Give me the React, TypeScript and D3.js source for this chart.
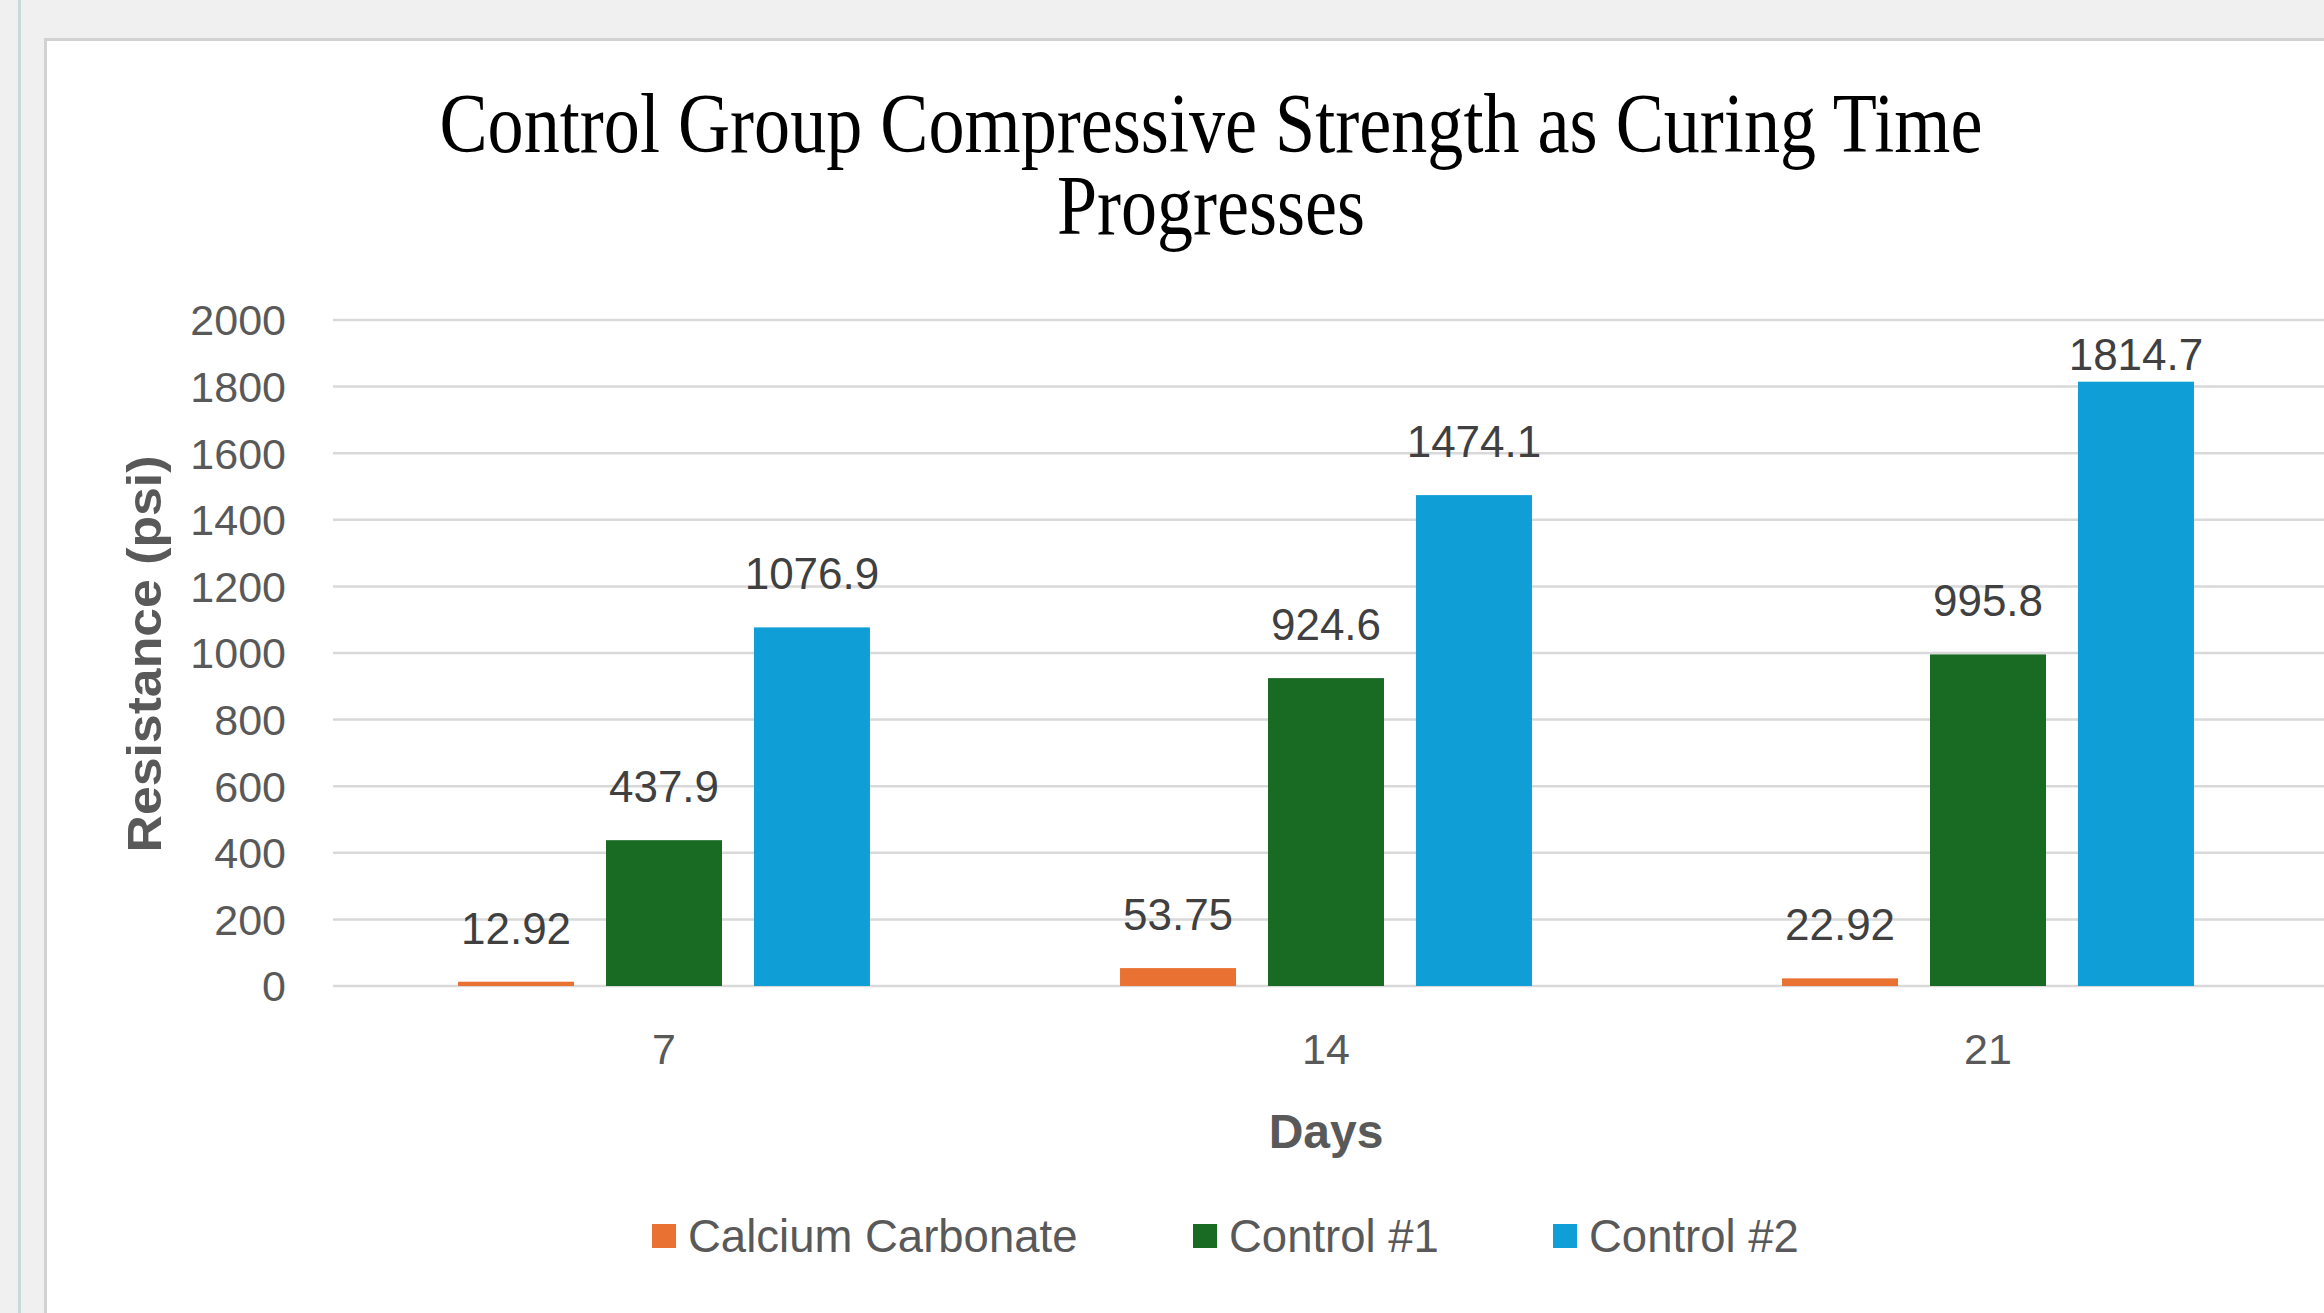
import React from 'react';
import * as d3 from 'd3';

const days = ['7', '14', '21'];
const seriesNames = ['Calcium Carbonate', 'Control #1', 'Control #2'];
const calciumCarbonate = [12.92, 53.75, 22.92];
const control1 = [437.9, 924.6, 995.8];
const control2 = [1076.9, 1474.1, 1814.7];
const seriesColors = ['#E97132', '#196B24', '#0F9ED5'];
const yTicks = [0, 200, 400, 600, 800, 1000, 1200, 1400, 1600, 1800, 2000];
const titleLines = ['Control Group Compressive Strength as Curing Time', 'Progresses'];

const W = 2324;
const H = 1313;
const sans = '"Liberation Sans", Arial, sans-serif';

export default function App() {
  const values = [calciumCarbonate, control1, control2];

  const x0 = d3.scaleBand<string>().domain(days).range([333, 2319]).padding(0);
  const x1 = d3.scaleBand<string>()
    .domain(seriesNames)
    .range([0, x0.bandwidth()])
    .paddingInner(0.216)
    .paddingOuter(0.845);
  const y = d3.scaleLinear().domain([0, 2000]).range([986, 320]);

  // legend entries, laid out left to right
  const legendX = [652, 1193, 1553];
  // title glyphs in the original are narrower than Liberation Serif
  const titleWidths = [1543, 308];

  return (
    <svg
      width={W}
      height={H}
      style={{ position: 'absolute', left: 0, top: 0, background: '#F0F0F0' }}
    >
      <rect x={0} y={0} width={W} height={H} fill="#F0F0F0" />
      <rect x={18} y={0} width={3} height={H} fill="#C8D8DB" />
      <rect x={45.5} y={39.5} width={W} height={H} fill="#FFFFFF" stroke="#D2D2D2" strokeWidth={3} />

      {/* title */}
      {titleLines.map((line, i) => (
        <text
          key={line}
          x={1211}
          y={152 + i * 82}
          textAnchor="middle"
          textLength={titleWidths[i]}
          lengthAdjust="spacingAndGlyphs"
          fontFamily='"Liberation Serif", "Times New Roman", serif'
          fontSize={84}
          fill="#000"
        >
          {line}
        </text>
      ))}

      {/* grid + y ticks */}
      {yTicks.map(t => (
        <g key={t}>
          <line x1={333} x2={W} y1={y(t)} y2={y(t)} stroke="#D9D9D9" strokeWidth={2.5} />
          <text
            x={286}
            y={y(t)}
            dy="0.36em"
            textAnchor="end"
            fontFamily={sans}
            fontSize={43}
            fill="#595959"
          >
            {t}
          </text>
        </g>
      ))}

      {/* bars */}
      {days.map((d, i) => (
        <g key={d} transform={`translate(${x0(d)},0)`}>
          {seriesNames.map((s, j) => {
            const v = values[j][i];
            const bx = x1(s) as number;
            const top = y(v);
            const labelY = Math.max(top - 38, y(2000) + 50);
            return (
              <g key={s}>
                <rect
                  x={bx}
                  y={top}
                  width={x1.bandwidth()}
                  height={y(0) - top}
                  fill={seriesColors[j]}
                />
                <text
                  x={bx + x1.bandwidth() / 2}
                  y={labelY}
                  textAnchor="middle"
                  fontFamily={sans}
                  fontSize={44}
                  fill="#404040"
                >
                  {v}
                </text>
              </g>
            );
          })}
          <text
            x={x0.bandwidth() / 2}
            y={1049}
            dy="0.36em"
            textAnchor="middle"
            fontFamily={sans}
            fontSize={43}
            fill="#595959"
          >
            {d}
          </text>
        </g>
      ))}

      {/* axis titles */}
      <text
        transform="translate(144,654) rotate(-90)"
        textAnchor="middle"
        dy="0.36em"
        textLength={397}
        lengthAdjust="spacingAndGlyphs"
        fontFamily={sans}
        fontWeight="bold"
        fontSize={48}
        fill="#595959"
      >
        Resistance (psi)
      </text>
      <text
        x={1326}
        y={1131}
        dy="0.36em"
        textAnchor="middle"
        fontFamily={sans}
        fontWeight="bold"
        fontSize={48}
        fill="#595959"
      >
        Days
      </text>

      {/* legend */}
      {seriesNames.map((s, j) => (
        <g key={s} transform={`translate(${legendX[j]},1236)`}>
          <rect x={0} y={-12} width={24} height={24} fill={seriesColors[j]} />
          <text x={36} y={0} dy="0.36em" fontFamily={sans} fontSize={45.5} fill="#595959">
            {s}
          </text>
        </g>
      ))}
    </svg>
  );
}
